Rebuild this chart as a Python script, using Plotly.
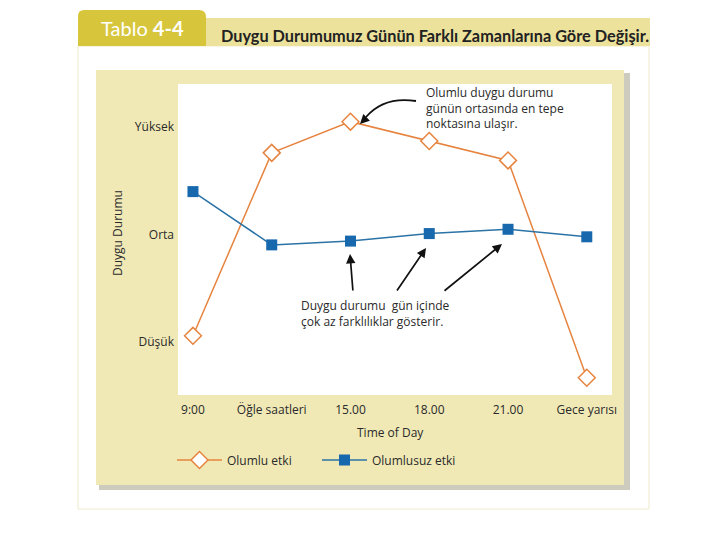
import plotly.graph_objects as go

# ---- data ----
categories = ["9:00", "Öğle saatleri", "15.00", "18.00", "21.00", "Gece yarısı"]
olumlu = [1.06, 2.76, 3.05, 2.87, 2.69, 0.67]
olumsuz = [2.40, 1.905, 1.94, 2.01, 2.05, 1.98]
y_tickvals = [1, 2, 3]
y_ticktext = ["Düşük", "Orta", "Yüksek"]

# ---- layout geometry (pixels in 720x540 reference page) ----
W, H = 720, 540
OFF = 8  # browser body margin
PL, PR, PT, PB = 178, 612, 84, 395


def px(x):
    return (x - PL) / (PR - PL)


def py(y):
    return (PB - y) / (PB - PT)


FONT = "'Open Sans', Lato, sans-serif"
FONT_T = "Lato, 'Open Sans', sans-serif"
ORANGE = "#e6843f"
BLUE = "#1768ad"
BLUE_LINE = "#2b73a6"
TXT = "#2a2a2a"
FS = 12

fig = go.Figure()
fig.add_trace(go.Scatter(
    x=categories, y=olumlu, mode="lines+markers", name="Olumlu etki",
    line=dict(color=ORANGE, width=1.5),
    marker=dict(symbol="diamond", size=13, color="white",
                line=dict(color=ORANGE, width=1.5)),
))
fig.add_trace(go.Scatter(
    x=categories, y=olumsuz, mode="lines+markers", name="Olumlusuz etki",
    line=dict(color=BLUE_LINE, width=1.5),
    marker=dict(symbol="square", size=11, color=BLUE,
                line=dict(color=BLUE, width=0)),
))

shapes = []


def rect(x0, y0, x1, y1, fill, line_color=None, lw=0):
    shapes.append(dict(type="rect", xref="paper", yref="paper",
                       x0=px(x0), x1=px(x1), y0=py(y1), y1=py(y0),
                       fillcolor=fill, layer="below",
                       line=dict(color=line_color or fill, width=lw)))


def P(x, y):
    return "{:.4f},{:.4f}".format(px(x), py(y))


# outer frame
rect(78, 46, 649, 509, "white", "#eeeccc", 1)
# title bar and tab (rounded top corners)
rect(78, 18, 650, 46, "#ece29c")
shapes.append(dict(type="path", xref="paper", yref="paper", layer="below",
                   path="M {} L {} Q {} {} L {} Q {} {} L {} Z".format(
                       P(78, 46), P(78, 16), P(78, 10), P(84, 10),
                       P(199, 10), P(206, 10), P(206, 17), P(206, 46)),
                   fillcolor="#d7c63c", line=dict(width=0)))
# panel shadow and panel
rect(99, 73, 630, 490, "#cdcbbd")
rect(96, 70, 624, 485, "#f0e9b6")
# plot area
rect(PL, PT, PR, PB, "white")

# curved arrow line (top annotation)
shapes.append(dict(type="path", xref="paper", yref="paper", layer="above",
                   path="M {} Q {} {}".format(P(416, 101), P(384, 96), P(366, 117)),
                   line=dict(color="#111111", width=1.8)))

annotations = []


def text(x, y, s, size=FS, color=TXT, xanchor="left", angle=0, family=FONT):
    annotations.append(dict(x=px(x), y=py(y), xref="paper", yref="paper",
                            text=s, showarrow=False, xanchor=xanchor,
                            yanchor="middle", textangle=angle,
                            font=dict(family=family, size=size, color=color)))


text(99, 28, "Tablo <b>4-4</b>", size=20, color="white", family=FONT_T)
text(219, 35, "<b>Duygu Durumumuz Günün Farklı Zamanlarına Göre Değişir.</b>",
     size=16.3, color="#222222", family=FONT_T)
text(390, 432, "Time of Day", xanchor="center")
text(117, 233, "Duygu Durumu", xanchor="center", angle=-90)

annotations.append(dict(x=px(424), y=py(108), xref="paper", yref="paper",
                        text="Olumlu duygu durumu<br>günün ortasında en tepe<br>noktasına ulaşır.",
                        showarrow=False, xanchor="left", yanchor="middle", align="left",
                        font=dict(family=FONT, size=FS, color=TXT)))
annotations.append(dict(x=px(299), y=py(313), xref="paper", yref="paper",
                        text="Duygu durumu  gün içinde<br>çok az farklılıklar gösterir.",
                        showarrow=False, xanchor="left", yanchor="middle", align="left",
                        font=dict(family=FONT, size=FS, color=TXT)))


def arrow(x_tail, y_tail, x_head, y_head):
    annotations.append(dict(x=px(x_head), y=py(y_head), xref="paper", yref="paper",
                            ax=x_tail - x_head, ay=y_tail - y_head, axref="pixel",
                            ayref="pixel", text="", showarrow=True, arrowhead=2,
                            arrowsize=1.1, arrowwidth=1.7, arrowcolor="#111111"))


arrow(368, 116, 360, 124)
arrow(353, 292, 350, 254)
arrow(396, 292, 426, 248)
arrow(443, 292, 502, 244)

fig.update_layout(
    width=W, height=H,
    margin=dict(l=PL - OFF, r=W - PR + OFF, t=PT - OFF, b=H - PB + OFF, pad=0),
    paper_bgcolor="white", plot_bgcolor="rgba(0,0,0,0)",
    shapes=shapes, annotations=annotations,
    font=dict(family=FONT, size=FS, color=TXT),
    showlegend=True,
    legend=dict(orientation="h", x=px(172), xanchor="left", y=py(460), yanchor="middle",
                bgcolor="rgba(0,0,0,0)", font=dict(family=FONT, size=FS, color=TXT),
                itemwidth=45, entrywidth=85, traceorder="normal"),
    xaxis=dict(type="category", range=[-0.19, 5.32], showgrid=False, zeroline=False,
               showline=False, ticks="", ticklabelstandoff=6,
               tickfont=dict(family=FONT, size=FS, color=TXT)),
    yaxis=dict(range=[0.51, 3.40], tickvals=y_tickvals, ticktext=y_ticktext,
               showgrid=False, zeroline=False, showline=False, ticks="",
               ticklabelstandoff=3,
               tickfont=dict(family=FONT, size=FS, color=TXT)),
)

fig.write_html("out.html")
